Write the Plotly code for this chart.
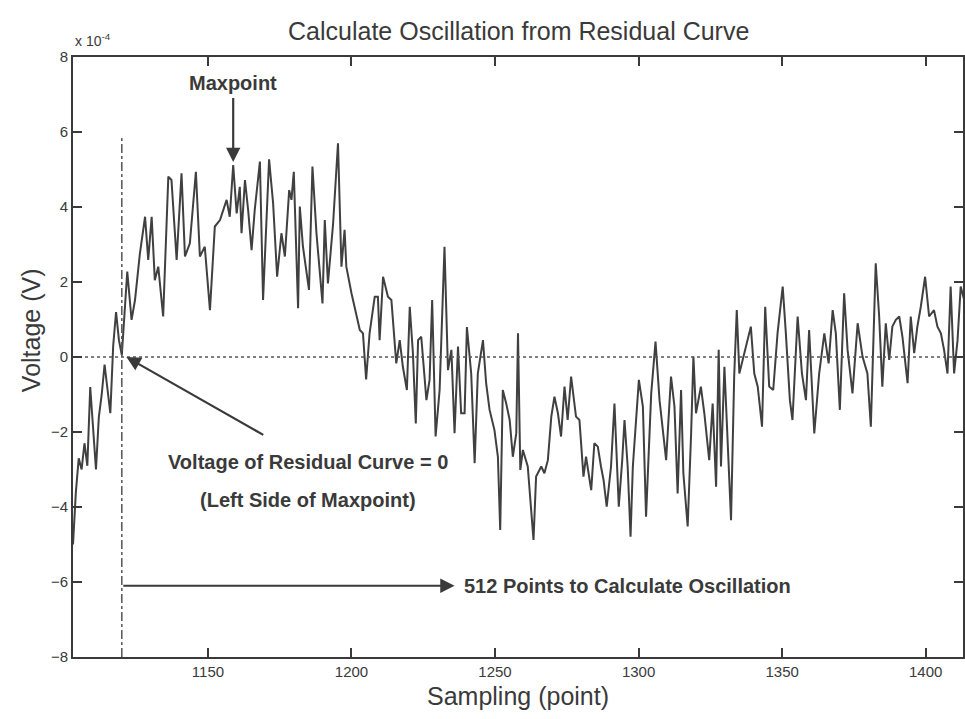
import plotly.graph_objects as go

# Residual curve (values in units of 1e-4 V), vertices
samples = [1103, 1104, 1105, 1106, 1107, 1108, 1109, 1110, 1111, 1112, 1113, 1114, 1115, 1116, 1117, 1118, 1119, 1120,
           1121.9, 1123.4, 1124.6, 1126.3, 1128.1, 1129.2, 1130.4, 1131.5, 1132.7, 1134.4, 1136.2, 1137.3, 1139.1,
           1140.8, 1142.0, 1143.7, 1145.8, 1147.2, 1148.9, 1150.7, 1152.4, 1154.2, 1156.5, 1157.6, 1158.8, 1160.0,
           1161.1, 1161.7, 1162.9, 1164.0, 1165.2, 1166.3, 1168.1, 1169.2, 1171.3, 1172.7, 1174.1, 1175.6, 1176.8,
           1178.3, 1179.1, 1179.9, 1181.4, 1182.0, 1183.1, 1185.2, 1186.4, 1187.8, 1189.9, 1190.7, 1191.8, 1193.6,
           1195.3, 1196.5, 1197.6, 1198.2, 1200.0, 1201.7, 1202.9, 1204.0, 1205.1,
           1206.3, 1208.1, 1209.2, 1209.8, 1211.0, 1212.7, 1213.9, 1215.6, 1216.8, 1217.9, 1219.3, 1220.3, 1221.4,
           1222.4, 1223.2, 1224.3, 1226.1, 1227.2, 1228.1, 1229.3, 1230.7, 1232.4, 1233.6, 1234.8, 1235.9, 1237.1,
           1238.2, 1239.4, 1240.2, 1241.7, 1242.9, 1244.0, 1245.8, 1246.9, 1248.1, 1249.8, 1251.0, 1251.8, 1252.7,
           1253.9, 1255.1, 1256.2, 1257.4, 1258.0, 1258.8, 1259.7, 1261.4, 1263.4, 1264.3, 1266.1, 1267.2, 1268.4,
           1269.6, 1270.7, 1271.9, 1273.0, 1274.2, 1275.3, 1276.5, 1278.2, 1279.4, 1280.8, 1281.7, 1283.5, 1284.6,
           1285.8, 1286.9, 1287.8, 1288.9, 1290.4, 1291.6, 1292.2, 1293.1, 1294.3, 1295.1, 1296.2, 1297.2,
           1298.0, 1300.1, 1301.5, 1302.6, 1304.4, 1305.9, 1307.3, 1309.6, 1311.3, 1312.5, 1313.6, 1314.8, 1315.6,
           1317.1, 1318.3, 1319.1, 1320.0, 1321.7, 1322.9, 1324.6, 1325.8, 1327.0, 1327.9, 1328.7, 1329.9, 1330.7,
           1332.2, 1333.3, 1334.2, 1335.1, 1336.8, 1339.1, 1340.3, 1341.5, 1343.0, 1344.1, 1345.5, 1346.9, 1348.4,
           1350.2, 1351.3, 1352.7, 1353.6, 1355.4, 1356.9, 1358.3, 1359.4, 1361.2, 1362.9, 1364.7, 1366.2, 1367.6,
           1368.7, 1370.1, 1371.6, 1372.8, 1374.5, 1376.3, 1378.0, 1379.7, 1380.9, 1382.6, 1383.8, 1384.9, 1386.1,
           1387.3, 1388.4, 1389.6, 1390.8, 1391.9, 1393.7, 1394.8, 1396.0, 1397.1, 1398.3, 1399.8, 1401.2, 1402.9,
           1404.1, 1405.3, 1406.4, 1407.6, 1408.7, 1409.9, 1411.1, 1412.2, 1413.4]
voltage = [-5.0, -3.6, -2.7, -3.0, -2.3, -2.9, -0.8, -2.0, -3.0, -1.6, -1.0, -0.2, -0.9, -1.5, 0.3, 1.2, 0.45, 0.05,
           2.28, 0.99, 1.52, 2.76, 3.74, 2.59, 3.74, 2.05, 2.41, 1.08, 4.81, 4.72, 2.59,
           4.9, 2.68, 3.03, 4.94, 2.68, 2.94, 1.25, 3.48, 3.65, 4.19, 3.74, 5.12, 3.83,
           4.54, 3.3, 4.72, 3.92, 2.85, 3.92, 5.21, 1.52, 5.27, 4.1, 2.14, 3.3, 2.68,
           4.45, 4.19, 4.94, 1.3, 4.01, 2.94, 1.79, 5.08, 3.3, 1.43, 3.65, 1.96, 3.56,
           5.7, 2.41, 3.39, 2.41, 1.7, 1.17, 0.72, 0.63, -0.6,
           0.63, 1.61, 1.61, 0.45, 2.14, 1.61, 1.52, -0.17, 0.45, -0.26, -0.88, 1.34, 0.1,
           -1.77, 0.45, 0.54, -1.15, -0.61, 1.52, -2.12, -0.88, 2.94, -0.35, 0.19, -2.03, 0.28,
           -1.5, -1.5, 0.8, -0.44, -2.83, -0.44, 0.45, -0.7, -1.41, -1.95, -2.66, -4.61, -0.88,
           -1.24, -1.68, -2.66, -2.03, 0.63, -3.01, -2.48, -2.92, -4.88, -3.19, -2.92, -3.1, -2.75,
           -1.59, -1.06, -1.5, -2.12, -0.79, -1.68, -0.52, -1.59, -1.68, -3.19, -2.66, -3.55, -2.3,
           -2.39, -2.92, -3.28, -3.99, -2.92, -1.24, -2.48, -3.99, -2.75, -1.68, -2.92, -4.79,
           -2.92, -0.61, -1.32, -4.26, -0.97, 0.41, -1.15, -2.75, -0.52, -1.32, -3.64, -0.88, -3.1,
           -4.52, -2.04, 0.01, -1.5, -0.79, -1.5, -2.75, -1.24, -3.46, 0.19, -2.92, -0.26, -1.86,
           -4.35, -0.52, 1.25, -0.44, 0.1, 0.81, -0.44, -0.79, -1.86, 1.34, -0.79, -0.88, 0.63,
           1.88, 0.63, -1.15, -1.68, 1.08, -0.44, -1.15, 0.72, -2.04, -0.44, 0.63, -0.17, 1.25,
           0.63, -1.41, 1.7, 0.19, -0.97, 0.9, 0.01, -0.44, -1.86, 2.5, 1.08, -0.79, 0.9,
           -0.08, 0.81, 0.99, 1.08, 0.54, -0.7, 1.08, 0.1, 0.81, 1.34, 2.14, 1.08, 1.25,
           0.81, 0.63, 0.19, -0.44, 1.88, -0.44, 0.45, 1.88, 1.52]

x_ticks = [1150, 1200, 1250, 1300, 1350, 1400]
y_ticks = [-8, -6, -4, -2, 0, 2, 4, 6, 8]
x_range = [1103, 1413]
y_range = [-8, 8]
start_sample = 1120
maxpoint_sample = 1158.8
maxpoint_value = 5.2

INK = "#3a3a3a"
FONT = "Liberation Sans, Arial, sans-serif"

fig = go.Figure()
fig.add_trace(go.Scatter(x=samples, y=voltage, mode="lines",
                         line=dict(color="#404040", width=2), showlegend=False, hoverinfo="skip"))
# zero reference (dotted)
fig.add_trace(go.Scatter(x=x_range, y=[0, 0], mode="lines",
                         line=dict(color="#555555", width=1.5, dash="dot"), showlegend=False, hoverinfo="skip"))
# start marker (dash-dot vertical)
fig.add_trace(go.Scatter(x=[start_sample, start_sample], y=[-8, 5.85], mode="lines",
                         line=dict(color="#555555", width=1.5, dash="dashdot"), showlegend=False, hoverinfo="skip"))

bold = dict(family=FONT, size=20, color=INK)
annotations = [
    dict(x=maxpoint_sample, y=7.3, text="<b>Maxpoint</b>", showarrow=False, font=bold, xref="x", yref="y"),
    dict(x=maxpoint_sample, y=maxpoint_value, ax=maxpoint_sample, ay=6.95, xref="x", yref="y",
         axref="x", ayref="y", showarrow=True, arrowhead=2, arrowsize=1.3, arrowwidth=2.2, arrowcolor=INK, text=""),
    dict(x=1121.6, y=0.0, ax=1169.8, ay=-2.1, xref="x", yref="y", axref="x", ayref="y",
         showarrow=True, arrowhead=2, arrowsize=1.3, arrowwidth=2.2, arrowcolor=INK, text=""),
    dict(x=1184.8, y=-2.8, text="<b>Voltage of Residual Curve = 0</b>", showarrow=False, font=bold,
         xref="x", yref="y"),
    dict(x=1184.8, y=-3.82, text="<b>(Left Side of Maxpoint)</b>", showarrow=False, font=bold,
         xref="x", yref="y"),
    dict(x=1235.9, y=-6.1, ax=start_sample, ay=-6.1, xref="x", yref="y", axref="x", ayref="y",
         showarrow=True, arrowhead=2, arrowsize=1.3, arrowwidth=2.2, arrowcolor=INK, text=""),
    dict(x=1238.5, y=-6.1, text="<b>512 Points to Calculate Oscillation</b>", showarrow=False, font=bold,
         xref="x", yref="y", xanchor="left"),
    dict(x=0, y=1.01, xref="paper", yref="paper", xanchor="left", yanchor="bottom",
         text="x 10<sup>-4</sup>", showarrow=False, font=dict(family=FONT, size=14, color=INK)),
    dict(x=-0.065, y=0.545, xref="paper", yref="paper", text="Voltage (V)", textangle=-90,
         showarrow=False, font=dict(family=FONT, size=25, color=INK)),
]

fig.update_layout(
    width=965, height=719,
    margin=dict(l=73, r=0, t=57, b=62),
    paper_bgcolor="white", plot_bgcolor="white",
    title=dict(text="Calculate Oscillation from Residual Curve", x=0.5375, xanchor="center",
               y=0.957, yanchor="middle", font=dict(family=FONT, size=25, color=INK)),
    annotations=annotations,
    showlegend=False,
)
fig.update_xaxes(range=x_range, tickvals=x_ticks, ticks="inside", ticklen=9, tickwidth=1.5,
                 tickcolor=INK, showline=True, linecolor=INK, linewidth=2, mirror="ticks",
                 showgrid=False, zeroline=False,
                 tickfont=dict(family=FONT, size=15, color=INK),
                 title=dict(text="Sampling (point)", font=dict(family=FONT, size=25, color=INK), standoff=8))
fig.update_yaxes(range=y_range, tickvals=y_ticks, ticks="inside", ticklen=9, tickwidth=1.5,
                 tickcolor=INK, showline=True, linecolor=INK, linewidth=2, mirror="ticks",
                 showgrid=False, zeroline=False,
                 tickfont=dict(family=FONT, size=15, color=INK))

fig.write_html("out.html")
